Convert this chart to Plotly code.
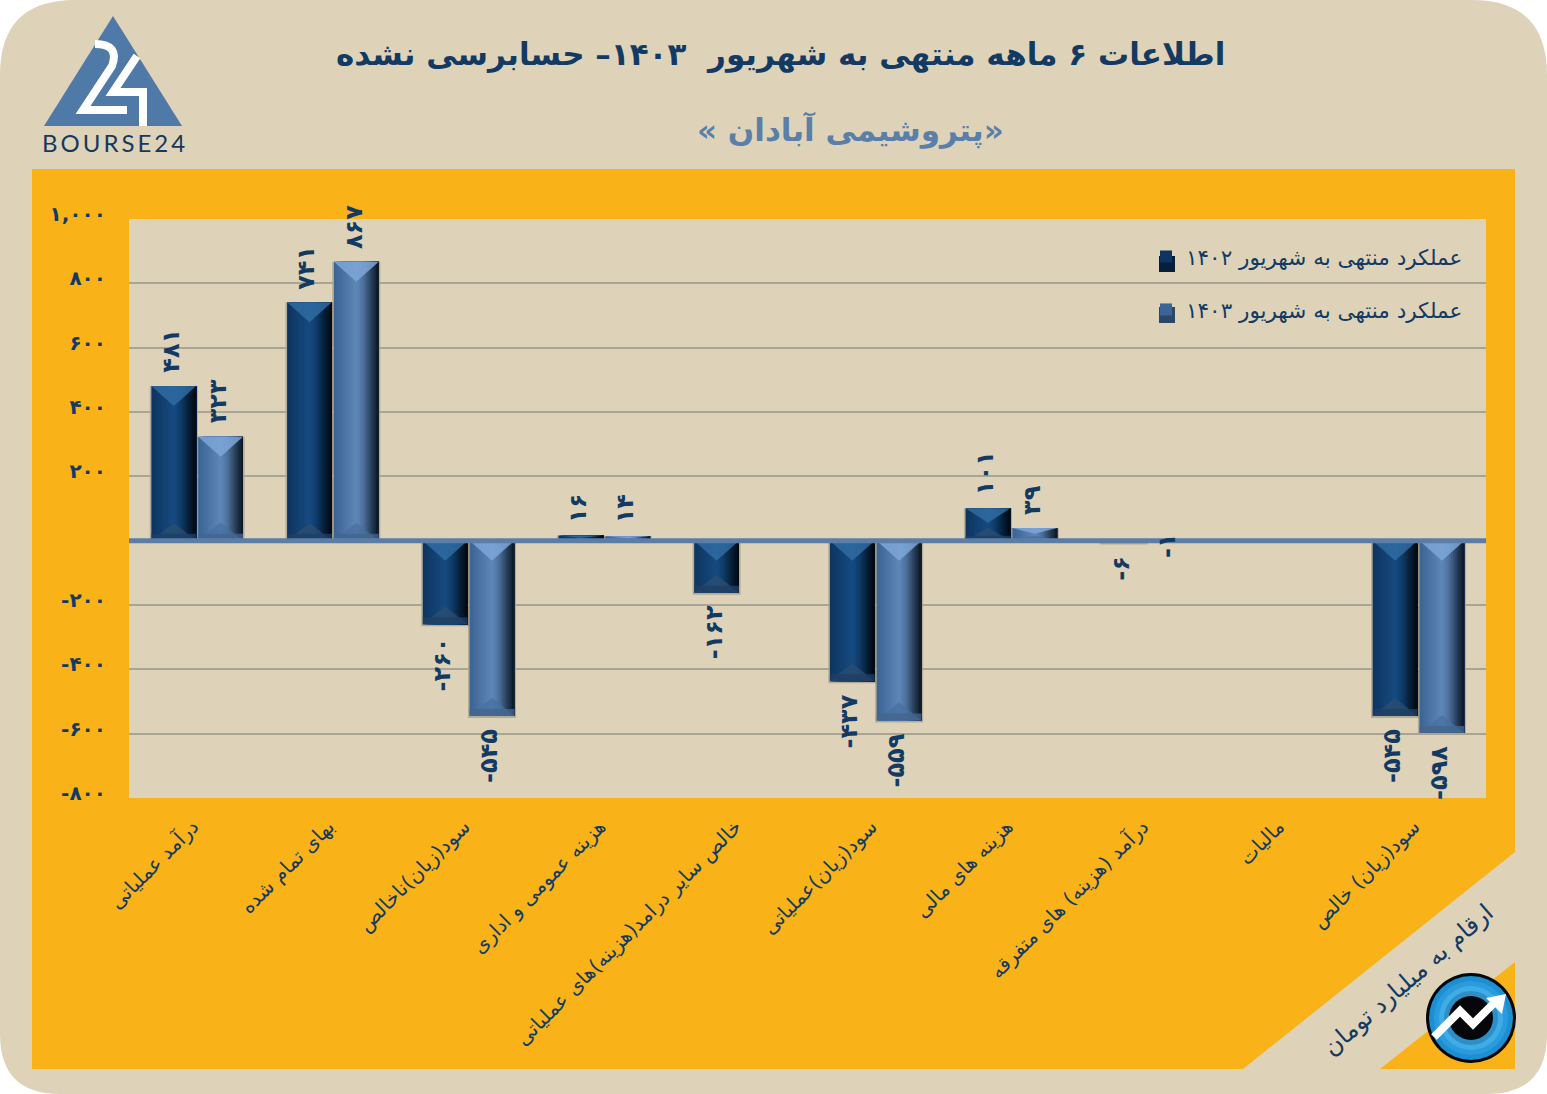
import plotly.graph_objects as go

# Values (billion toman)
categories = [
    "درآمد عملیاتی", "بهای تمام شده", "سود(زیان)ناخالص", "هزینه عمومی و اداری",
    "خالص سایر درامد(هزینه)های عملیاتی", "سود(زیان)عملیاتی", "هزینه های مالی",
    "درآمد (هزینه) های متفرقه", "مالیات", "سود(زیان) خالص",
]
values_1402 = [481, 741, -260, 16, -162, -437, 101, -6, None, -545]
values_1403 = [323, 867, -545, 14, None, -559, 39, -1, None, -598]
name_1402 = "عملکرد منتهی به شهریور ۱۴۰۲"
name_1403 = "عملکرد منتهی به شهریور ۱۴۰۳"
y_ticks = [-800, -600, -400, -200, 0, 200, 400, 600, 800, 1000]
y_tick_labels = ["-۸۰۰", "-۶۰۰", "-۴۰۰", "-۲۰۰", "", "۲۰۰", "۴۰۰", "۶۰۰", "۸۰۰", "۱,۰۰۰"]

NAVY = "#133A63"
FONT = "DejaVu Sans"
BEIGE = "#DED3B8"
ORANGE = "#F9B217"
BAR_W = 0.33
PX_PER_UNIT = 579 / 1800


def X(px):
    return (px - 129) / 1357


def Y(py):
    return (798 - py) / 579


def poly(points, **kw):
    path = "M " + " L ".join(f"{X(a):.5f},{Y(b):.5f}" for a, b in points) + " Z"
    return dict(type="path", xref="paper", yref="paper", path=path, line_width=0, **kw)


def lerp(stops, t):
    for (t0, c0), (t1, c1) in zip(stops, stops[1:]):
        if t <= t1:
            f = (t - t0) / (t1 - t0)
            rgb = [int(c0[i:i + 2], 16) * (1 - f) + int(c1[i:i + 2], 16) * f for i in (1, 3, 5)]
            return "rgb({:.0f},{:.0f},{:.0f})".format(*rgb)
    return stops[-1][1]


dark_stops = [(0, "#0E3560"), (0.5, "#164B80"), (0.66, "#0F3C69"), (0.88, "#051A30"), (1, "#020B14")]
light_stops = [(0, "#3C6595"), (0.5, "#5F88B8"), (0.66, "#4D719D"), (0.88, "#22374F"), (1, "#101B2A")]
series = [
    (values_1402, name_1402, -BAR_W - 0.005, dark_stops, "#2F6BA1", "#2E4D70", "#1D3F64"),
    (values_1403, name_1403, 0.01, light_stops, "#7EA6D8", "#45709F", "#44658D"),
]

shapes = [
    # rounded card and the orange panel with its cut corner
    dict(type="path", xref="paper", yref="paper", fillcolor=BEIGE, line_width=0,
         path=f"M {X(0)},{Y(75)} Q {X(0)},{Y(0)} {X(75)},{Y(0)} L {X(1472)},{Y(0)} "
              f"Q {X(1547)},{Y(0)} {X(1547)},{Y(75)} L {X(1547)},{Y(1034)} "
              f"Q {X(1547)},{Y(1094)} {X(1487)},{Y(1094)} L {X(60)},{Y(1094)} "
              f"Q {X(0)},{Y(1094)} {X(0)},{Y(1034)} Z", layer="below"),
    poly([(32, 169), (1515, 169), (1515, 852), (1243, 1069), (32, 1069)], fillcolor=ORANGE, layer="below"),
    poly([(1515, 962), (1515, 1069), (1380, 1069)], fillcolor=ORANGE, layer="below"),
    poly([(129, 219), (1486, 219), (1486, 798), (129, 798)], fillcolor=BEIGE, layer="below"),
    # logo
    poly([(113, 16), (44, 126), (182, 126)], fillcolor="#4F79A7", layer="below"),
    dict(type="path", xref="paper", yref="paper", layer="below", line=dict(color="white", width=8),
         path=f"M {X(95)},{Y(44)} Q {X(120)},{Y(44)} {X(112)},{Y(66)} L {X(83)},{Y(110)} L {X(127)},{Y(110)}"),
    dict(type="path", xref="paper", yref="paper", layer="below", line=dict(color="white", width=8),
         path=f"M {X(137)},{Y(56)} L {X(113)},{Y(92)} L {X(143)},{Y(92)} L {X(143)},{Y(126)}"),
    # darker frame behind the small legend keys
    dict(type="rect", xref="paper", yref="paper", x0=X(1159), x1=X(1175), y0=Y(272), y1=Y(256),
         fillcolor="#06203C", line_width=0, layer="below"),
    dict(type="rect", xref="paper", yref="paper", x0=X(1159), x1=X(1175), y0=Y(323), y1=Y(307),
         fillcolor="#2A4768", line_width=0, layer="below"),
]

traces = []
N_STRIPS = 24
for values, name, offset, stops, tip_color, facet_color, rim_color in series:
    group = name
    for s in range(N_STRIPS):
        t = s / (N_STRIPS - 1)
        # each strip runs to the right edge of the bar so no seams show
        traces.append(go.Bar(
            x=list(range(len(categories))), y=values,
            offset=offset + BAR_W * s / N_STRIPS, width=BAR_W * (1 - s / N_STRIPS),
            marker=dict(color=lerp(stops, t), line_width=0),
            name=name, legendgroup=group, showlegend=s == 0, hoverinfo="skip" if s else None,
        ))
    for i, v in enumerate(values):
        if v is None:
            continue
        x0, x1 = i + offset, i + offset + BAR_W
        xm = (x0 + x1) / 2
        hi, lo = max(v, 0), min(v, 0)
        depth = min(20 / PX_PER_UNIT, abs(v) * 0.45)
        rim = min(7 / PX_PER_UNIT, abs(v) * 0.15)
        # soft shadow behind the bar
        pad_x, pad_y = 0.012, 2 / PX_PER_UNIT
        shapes.append(dict(type="rect", xref="x", yref="y", x0=x0 - pad_x, x1=x1 + pad_x, y0=lo - pad_y, y1=hi,
                           fillcolor="rgba(70,70,60,0.28)", line_width=0, layer="below"))
        # bevel: lit triangle at the top, darker facets at the bottom
        shapes.append(dict(type="path", xref="x", yref="y", fillcolor=tip_color, line_width=0, opacity=0.85,
                           path=f"M {x0},{hi} L {x1},{hi} L {xm},{hi - depth} Z"))
        shapes.append(dict(type="path", xref="x", yref="y", fillcolor=facet_color, line_width=0, opacity=0.75,
                           path=f"M {x0},{lo} L {x1},{lo} L {xm},{lo + depth * 0.9} Z"))
        shapes.append(dict(type="rect", xref="x", yref="y", x0=x0, x1=x1, y0=lo, y1=lo + rim,
                           fillcolor=rim_color, line_width=0, opacity=0.8))

# axis line at zero sits over the bars
shapes.append(dict(type="line", xref="paper", yref="y", x0=0, x1=1, y0=0, y1=0,
                   line=dict(color="#5A7EA8", width=5)))

# round badge, bottom right
cx, cy = 1471, 1018


def circle(r, color):
    return dict(type="circle", xref="paper", yref="paper", x0=X(cx - r), x1=X(cx + r), y0=Y(cy + r), y1=Y(cy - r),
                fillcolor=color, line_width=0)


shapes += [circle(45, "#05070A"), circle(42, "#1B8FD2"), circle(37, "#2A9CDD"), circle(32, "#3FACE6"),
           circle(27, "#2E8FC8"), circle(22, "#05070A")]
shapes.append(dict(type="path", xref="paper", yref="paper", line=dict(color="white", width=8),
                   path=f"M {X(1434)},{Y(1037)} L {X(1460)},{Y(1011)} L {X(1473)},{Y(1024)} L {X(1494)},{Y(1003)}"))
shapes.append(poly([(1506, 994), (1486, 998), (1502, 1014)], fillcolor="white"))

centered = dict(xref="paper", yref="paper", showarrow=False, xanchor="center", yanchor="middle")
annotations = [
    dict(text="اطلاعات ۶ ماهه منتهی به شهریور  ۱۴۰۳– حسابرسی نشده", x=X(780), y=Y(55),
         font=dict(family=FONT, size=31, color=NAVY, weight="bold"), **centered),
    dict(text="\u200f«پتروشیمی آبادان »\u200f", x=X(850), y=Y(130),
         font=dict(family=FONT, size=31, color="#5A7FA8", weight="bold"), **centered),
    dict(text="ارقام به میلیارد تومان", x=X(1408), y=Y(980), textangle=-41,
         font=dict(family=FONT, size=24, color=NAVY), **centered),
    dict(text="B\u2009O\u2009U\u2009R\u2009S\u2009E\u20092\u20094", x=X(113), y=Y(143),
         font=dict(family="Lato", size=24, color="#17385E"), **centered),
]

fa_digits = str.maketrans("0123456789", "۰۱۲۳۴۵۶۷۸۹")
for values, name, offset, *_ in series:
    for i, v in enumerate(values):
        if v is None:
            continue
        label = str(v).translate(fa_digits)
        gap = -10 if v == -1 else 11
        annotations.append(dict(
            text=label, x=i + offset + BAR_W / 2, y=v, xref="x", yref="y", showarrow=False, textangle=-90,
            xshift=-3, yshift=gap if v > 0 else -gap, yanchor="bottom" if v > 0 else "top",
            font=dict(family=FONT, size=24, color=NAVY, weight="bold"),
        ))

fig = go.Figure(traces)
fig.update_layout(
    width=1547, height=1094, barmode="overlay",
    margin=dict(l=129, r=61, t=219, b=296),
    paper_bgcolor="white", plot_bgcolor="rgba(0,0,0,0)",
    shapes=shapes, annotations=annotations, hovermode="closest",
    legend=dict(x=X(1146), y=Y(236), xanchor="left", yanchor="top", bgcolor="rgba(0,0,0,0)",
                tracegroupgap=22, itemclick=False, itemdoubleclick=False,
                font=dict(family=FONT, size=21.5, color=NAVY)),
)
fig.update_xaxes(range=[-0.5, 9.5], tickmode="array", tickvals=list(range(len(categories))), ticktext=categories,
                 tickangle=-45, showgrid=False, zeroline=False, ticks="", showline=False,
                 ticklabelstandoff=12, ticklabelshift=-4,
                 tickfont=dict(family=FONT, size=20, color=NAVY))
fig.update_yaxes(range=[-800, 1000], tickmode="array", tickvals=y_ticks, ticktext=y_tick_labels,
                 showgrid=True, gridcolor="#A9A594", gridwidth=2, zeroline=False, ticks="",
                 ticklabelstandoff=22, ticklabelshift=-5,
                 tickfont=dict(family=FONT, size=20, color=NAVY, weight="bold"))

fig.write_html("out.html", config=dict(displayModeBar=False), post_script="document.body.style.margin='0';")
